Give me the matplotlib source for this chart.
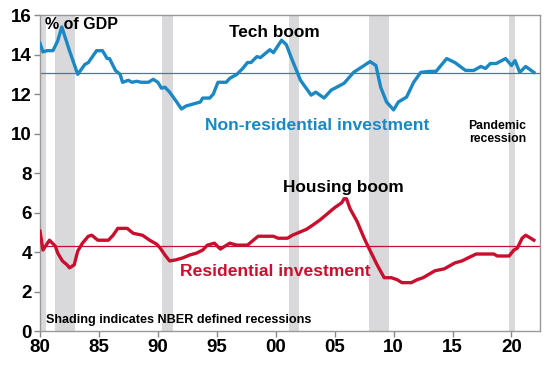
import matplotlib.pyplot as plt

plt.rcParams['font.family'] = ['Liberation Sans', 'DejaVu Sans']

# non-residential investment, % of GDP
nonres_yr = [1980.0, 1980.25, 1980.6, 1981.1, 1981.5, 1981.85, 1982.5, 1983.2, 1983.8, 1984.1,
             1984.8, 1985.3, 1985.7, 1985.9, 1986.4, 1986.8, 1987.0, 1987.5, 1987.8, 1988.2,
             1988.6, 1989.2, 1989.6, 1990.0, 1990.3, 1990.6, 1991.0, 1991.6, 1992.0, 1992.4,
             1993.0, 1993.6, 1993.8, 1994.4, 1994.7, 1995.1, 1995.8, 1996.1, 1996.7, 1997.2,
             1997.6, 1997.9, 1998.4, 1998.7, 1999.0, 1999.5, 1999.8, 2000.5, 2000.9, 2001.35,
             2002.1, 2003.0, 2003.4, 2004.1, 2004.7, 2005.8, 2006.6, 2007.5, 2008.0, 2008.5,
             2008.9, 2009.4, 2010.0, 2010.4, 2011.1, 2011.7, 2012.3, 2013.0, 2013.6, 2014.5,
             2015.2, 2016.1, 2016.8, 2017.4, 2017.8, 2018.2, 2018.7, 2019.5, 2020.0, 2020.3,
             2020.7, 2021.2, 2021.9]
nonres_val = [14.57, 14.14, 14.2, 14.2, 14.7, 15.4, 14.2, 13.0, 13.5, 13.6,
              14.2, 14.2, 13.8, 13.8, 13.2, 13.0, 12.6, 12.7, 12.6, 12.65,
              12.6, 12.6, 12.75, 12.6, 12.3, 12.35, 12.1, 11.6, 11.25, 11.4,
              11.5, 11.6, 11.8, 11.8, 12.0, 12.6, 12.6, 12.8, 13.0, 13.3,
              13.6, 13.6, 13.9, 13.85, 14.0, 14.25, 14.1, 14.73, 14.5, 13.8,
              12.7, 11.95, 12.1, 11.8, 12.2, 12.55, 13.1, 13.45, 13.65, 13.45,
              12.35, 11.6, 11.2, 11.6, 11.85, 12.6, 13.1, 13.15, 13.15, 13.8,
              13.6, 13.2, 13.2, 13.4, 13.3, 13.55, 13.55, 13.8, 13.45, 13.7,
              13.1, 13.4, 13.1]

# residential investment, % of GDP
res_yr = [1980.0, 1980.25, 1980.8, 1981.3, 1981.5, 1981.9, 1982.3, 1982.5, 1982.9, 1983.2,
          1983.6, 1984.1, 1984.4, 1984.9, 1985.8, 1986.2, 1986.6, 1987.4, 1987.9, 1988.7,
          1989.3, 1989.9, 1990.2, 1990.6, 1991.0, 1991.5, 1992.1, 1992.7, 1993.3, 1993.8,
          1994.2, 1994.8, 1995.3, 1996.1, 1996.7, 1997.6, 1998.5, 1999.5, 1999.8, 2000.2,
          2001.0, 2001.4, 2002.0, 2002.6, 2003.1, 2003.7, 2004.4, 2005.0, 2005.6, 2005.8,
          2006.0, 2006.3, 2006.9, 2007.5, 2007.9, 2008.6, 2009.2, 2009.8, 2010.3, 2010.7,
          2011.5, 2012.0, 2012.5, 2013.5, 2014.3, 2015.2, 2015.8, 2016.3, 2017.0, 2018.5,
          2018.8, 2019.8, 2020.2, 2020.5, 2020.9, 2021.2, 2021.5, 2021.9]
res_val = [5.06, 4.1, 4.6, 4.3, 3.95, 3.55, 3.35, 3.2, 3.35, 4.05,
           4.45, 4.8, 4.85, 4.6, 4.6, 4.85, 5.2, 5.2, 4.95, 4.85,
           4.6, 4.4, 4.2, 3.85, 3.55, 3.6, 3.7, 3.85, 3.95, 4.1,
           4.35, 4.45, 4.15, 4.45, 4.35, 4.35, 4.8, 4.8, 4.8, 4.7,
           4.7, 4.85, 5.0, 5.15, 5.35, 5.6, 5.95, 6.25, 6.5, 6.7,
           6.7, 6.2, 5.55, 4.7, 4.2, 3.35, 2.7, 2.7, 2.6, 2.45,
           2.45, 2.6, 2.7, 3.05, 3.15, 3.45, 3.55, 3.7, 3.9, 3.9,
           3.8, 3.8, 4.1, 4.2, 4.7, 4.85, 4.75, 4.6]

nonres_avg = 13.08
res_avg = 4.3

recessions = [(1980.0, 1980.5), (1981.3, 1983.0), (1990.35, 1991.3),
              (2001.1, 2002.0), (2007.9, 2009.6), (2019.8, 2020.3)]

xtick_pos = [1980, 1985, 1990, 1995, 2000, 2005, 2010, 2015, 2020]
xtick_lab = ['80', '85', '90', '95', '00', '05', '10', '15', '20']

blue = '#1b88c4'
red = '#c8102e'

fig = plt.figure(figsize=(5.48, 3.66), dpi=100)
ax = fig.add_axes([0.073, 0.0956, 0.912, 0.863])

for a, b in recessions:
    ax.axvspan(a, b, color='#d9d9db', lw=0, zorder=0)

ax.axhline(nonres_avg, color=blue, lw=0.9, zorder=1)
ax.axhline(res_avg, color=red, lw=0.9, zorder=1)
ax.plot(nonres_yr, nonres_val, color=blue, lw=2.4, solid_joinstyle='round', zorder=3)
ax.plot(res_yr, res_val, color=red, lw=2.4, solid_joinstyle='round', zorder=3)

ax.set_xlim(1980, 2022.4)
ax.set_ylim(0, 16)
ax.set_yticks(range(0, 17, 2))
ax.set_xticks(xtick_pos)
ax.set_xticklabels(xtick_lab)
for lab in ax.get_xticklabels() + ax.get_yticklabels():
    lab.set_fontweight('bold')
    lab.set_fontsize(13.5)
ax.tick_params(direction='out', length=4, color='#888888', width=1, pad=2)
for s in ax.spines.values():
    s.set_color('#999999')
    s.set_linewidth(1)

# annotations
ax.text(1980.45, 15.9, '% of GDP', fontsize=11.5, fontweight='bold', va='top')
ax.text(1999.9, 15.1, 'Tech boom', fontsize=12.4, fontweight='bold', ha='center', va='center')
ax.text(1994.0, 10.4, 'Non-residential investment', fontsize=12.6, fontweight='bold',
        color=blue, ha='left', va='center')
ax.text(2018.8, 10.05, 'Pandemic\nrecession', fontsize=8.8, fontweight='bold',
        ha='center', va='center', linespacing=1.1)
ax.text(2005.7, 7.25, 'Housing boom', fontsize=12.4, fontweight='bold', ha='center', va='center')
ax.text(1991.9, 3.0, 'Residential investment', fontsize=12.6, fontweight='bold',
        color=red, ha='left', va='center')
ax.text(1980.55, 0.55, 'Shading indicates NBER defined recessions', fontsize=9.1,
        fontweight='bold', va='center')

fig.savefig('out.png', dpi=100)
